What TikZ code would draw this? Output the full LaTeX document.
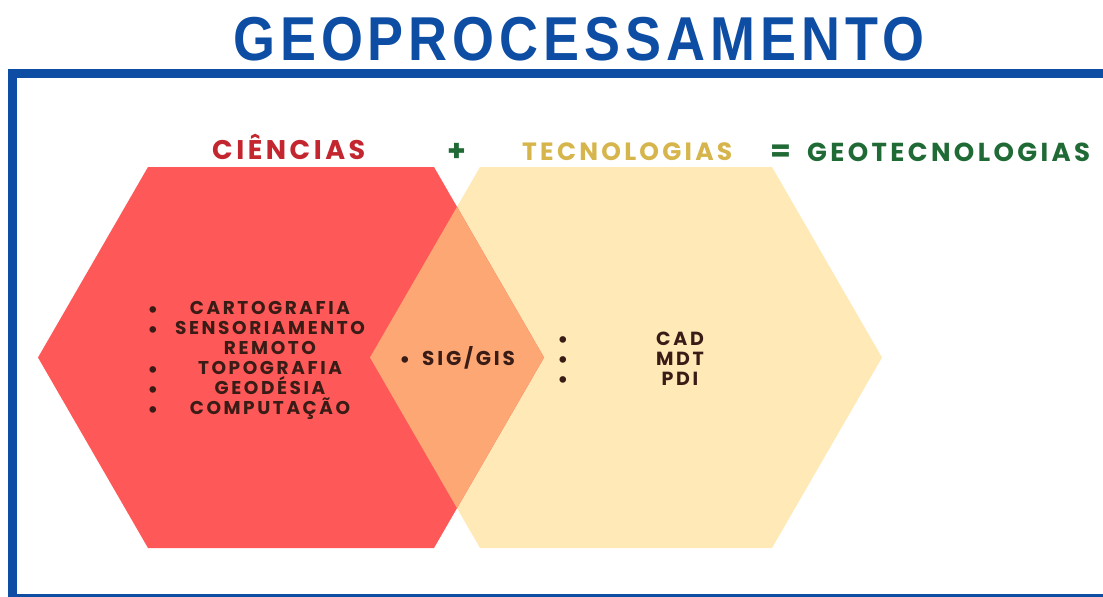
\documentclass[tikz,border=0pt]{standalone}
\usepackage{fontspec}
\setmainfont{Liberation Sans}
\newfontfamily\titlefont{Liberation Sans}[FakeStretch=0.87,LetterSpace=8]
\newfontfamily\headfont{Poppins}[LetterSpace=13]
\newfontfamily\itemfont{Poppins}[LetterSpace=14]

\definecolor{frameblue}{HTML}{0D4DA3}
\definecolor{hexred}{HTML}{FF5858}
\definecolor{hexyellow}{HTML}{FFE9B6}
\definecolor{hexorange}{HTML}{FCA774}
\definecolor{cienred}{HTML}{C3262E}
\definecolor{tecgold}{HTML}{D6B54C}
\definecolor{geogreen}{HTML}{1F6A35}
\definecolor{itemdark}{HTML}{3A1C16}

\def\cienhex{(38,357.5) -- (148,167) -- (434,167) -- (544,357.5) -- (434,548) -- (148,548) -- cycle}
\def\techex{(370,357.5) -- (480,167) -- (772,167) -- (882,357.5) -- (772,548) -- (480,548) -- cycle}

\tikzset{
    every node/.style={inner sep=0pt},
    titletext/.style={font=\titlefont\bfseries\fontsize{62}{62}\selectfont, text=frameblue},
    headtext/.style={font=\headfont\bfseries\fontsize{27}{27}\selectfont},
    signtext/.style={font=\headfont\bfseries\fontsize{30}{30}\selectfont, text=geogreen},
    itemtext/.style={font=\itemfont\bfseries\fontsize{18.5}{18.5}\selectfont, text=itemdark},
    bullet/.style={font=\bfseries\fontsize{23}{23}\selectfont, text=itemdark},
}

\begin{document}
\begin{tikzpicture}[x=1pt, y=-1pt]
\useasboundingbox (0,0) rectangle (1103,597);
\clip (0,0) rectangle (1103,597);

% hexagons
\fill[hexyellow] \techex;
\fill[hexred] \cienhex;
\begin{scope}
    \clip \cienhex;
    \fill[hexorange] \techex;
\end{scope}

% frame
\draw[frameblue, line width=9pt] (12.5,73) rectangle (1120,598.5);

\node[titletext, anchor=base west] (titulo) at (233,60) {GEOPROCESSAMENTO};

\node[headtext, text=cienred, anchor=base west] (ciencias) at (212,159) {CIÊNCIAS};
\node[signtext, anchor=base] (mais) at (457,161) {+};
\node[headtext, text=tecgold, anchor=base west, font=\headfont\bfseries\fontsize{25}{25}\selectfont] (tecnologias) at (522,160) {TECNOLOGIAS};
\node[signtext, anchor=base] (igual) at (781,161) {=};
\node[headtext, text=geogreen, anchor=base west, font=\headfont\bfseries\fontsize{26}{26}\selectfont] (geotec) at (807,161) {GEOTECNOLOGIAS};

% ciencias list
\foreach \txt/\b [count=\i] in {CARTOGRAFIA/1, SENSORIAMENTO/1, REMOTO/0, TOPOGRAFIA/1, GEODÉSIA/1, COMPUTAÇÃO/1} {
    \node[itemtext, anchor=base] (cien\i) at (270,{294+20*\i}) {\txt};
    \ifnum\b=1
        \node[bullet, anchor=base] (cbul\i) at (153,{297+20*\i}) {•};
    \fi
}

% sig/gis
\node[bullet, anchor=base] (sbul) at (405,367) {•};
\node[itemtext, anchor=base west, font=\itemfont\bfseries\fontsize{20}{20}\selectfont] (sig) at (422,365) {SIG/GIS};

% tecnologias list
\foreach \txt [count=\i] in {CAD, MDT, PDI} {
    \node[itemtext, anchor=base, font=\itemfont\bfseries\fontsize{19}{19}\selectfont] (tec\i) at (680,{325+20*\i}) {\txt};
    \node[bullet, anchor=base] (tbul\i) at (563,{327+20*\i}) {•};
}

\end{tikzpicture}
\end{document}
